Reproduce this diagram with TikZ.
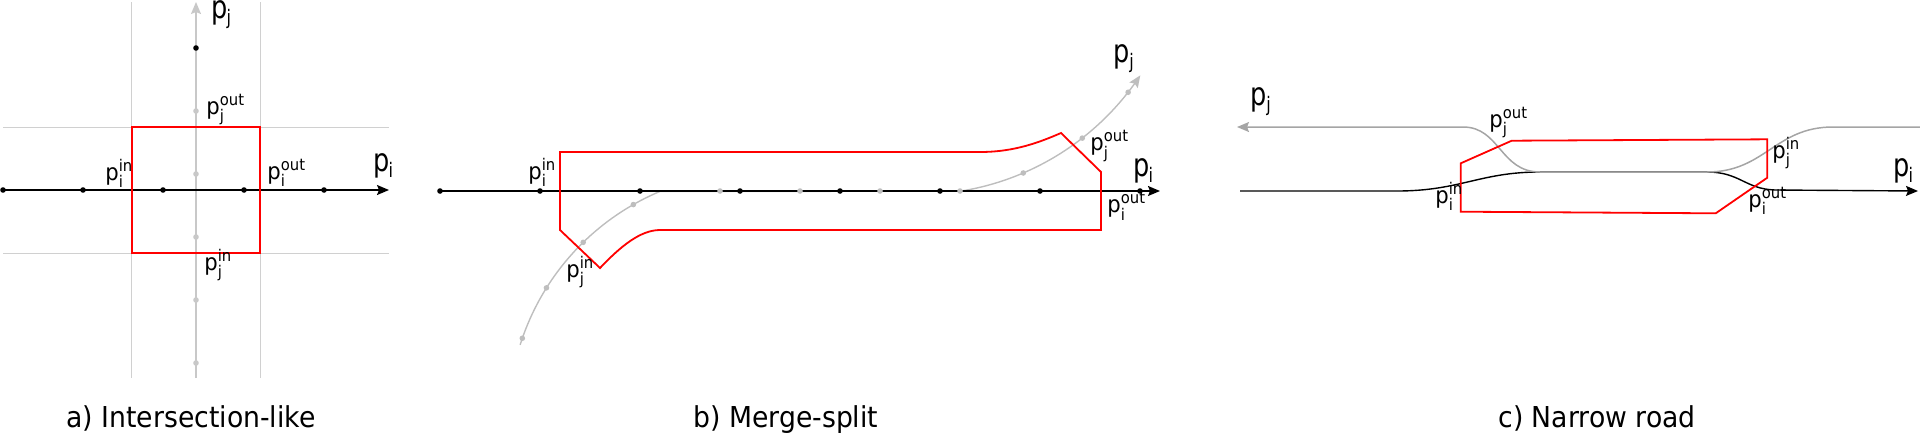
\documentclass[tikz,border=0pt]{standalone}
\usepackage{fontspec}
\setmainfont{DejaVu Sans}
\usepackage{amsmath}
\usepackage{graphicx}
\usetikzlibrary{arrows.meta}
\definecolor{gridgray}{RGB}{208,208,208}
\definecolor{axgray}{RGB}{200,200,200}
\definecolor{curvegray}{RGB}{190,190,190}
\definecolor{roadgray}{RGB}{165,165,165}
\definecolor{boxred}{RGB}{255,0,0}
\newcommand{\plab}[2]{\scalebox{0.92}[1]{p$_{\text{#1}}^{\text{#2}}$}}
\newcommand{\pbig}[1]{\scalebox{0.8}[1]{p\kern-0.4pt\raisebox{-3pt}{\fontsize{10}{10}\selectfont #1}}}
\newcommand{\capt}[1]{\scalebox{0.926}[1]{#1}}
\tikzset{
  lbl/.style={inner sep=0pt, anchor=base west, font=\fontsize{11.5}{13}\selectfont},
  biglbl/.style={inner sep=0pt, anchor=base west, font=\fontsize{16}{18}\selectfont},
  captlbl/.style={inner sep=0pt, anchor=base west, font=\fontsize{14.4}{17}\selectfont},
  bdot/.style={circle, fill=black, inner sep=0pt, minimum size=2.8pt},
  gdot/.style={circle, fill=axgray, inner sep=0pt, minimum size=2.8pt},
  axis/.style={draw=black, line width=0.7pt, -{Stealth[length=6pt,width=5pt,inset=1pt]}},
  gaxis/.style={draw=axgray, line width=0.7pt, -{Stealth[length=6pt,width=5pt,inset=1pt]}},
  gridline/.style={draw=gridgray, line width=0.5pt},
  zone/.style={draw=boxred, line width=0.9pt, line join=miter},
}
\begin{document}
\begin{tikzpicture}[x=0.5pt, y=-0.5pt]
\useasboundingbox (0,0) rectangle (1920,435);

% ---------------- a) Intersection-like ----------------
\coordinate (gv1t) at (131.7,2); \coordinate (gv1b) at (131.7,378);
\coordinate (gv2t) at (260,2);   \coordinate (gv2b) at (260,378);
\coordinate (gh1l) at (3,127);   \coordinate (gh1r) at (389,127);
\coordinate (gh2l) at (3,253);   \coordinate (gh2r) at (389,253);
\draw[gridline] (gv1t) -- (gv1b);
\draw[gridline] (gv2t) -- (gv2b);
\draw[gridline] (gh1l) -- (gh1r);
\draw[gridline] (gh2l) -- (gh2r);

\coordinate (ajs) at (196,378); \coordinate (aje) at (196,2);
\draw[gaxis] (ajs) -- (aje);
\coordinate (ais) at (3,190); \coordinate (aie) at (389,190);
\draw[axis] (ais) -- (aie);

\foreach \x [count=\k] in {3,83,163,244,324} \node[bdot] (ad\k) at (\x,190) {};
\foreach \y [count=\k] in {111,174,237,300,363} \node[gdot] (ag\k) at (196,\y) {};
\node[bdot] (ajtop) at (196,48) {};

\draw[zone] (131.7,127) rectangle (260,253);

\node[biglbl] (aPj) at (210.7,18) {\pbig{j}};
\node[biglbl] (aPi) at (372.7,171.3) {\pbig{i}};
\node[lbl] (aPiin) at (105,180) {\plab{i}{in}};
\node[lbl] (aPiout) at (267,179) {\plab{i}{out}};
\node[lbl] (aPjout) at (206,114) {\plab{j}{out}};
\node[lbl] (aPjin) at (204,270) {\plab{j}{in}};
\node[captlbl] (capA) at (66,427) {\capt{a) Intersection-like}};

% ---------------- b) Merge-split ----------------
\draw[draw=curvegray, line width=0.7pt, -{Stealth[length=6pt,width=5pt,inset=1pt]}]
  plot[domain=162.5:112.8, samples=40] ({755.7+247*cos(\x)}, {419.1-247*sin(\x)})
  -- (960,191.2)
  -- plot[domain=-81:-33.5, samples=40] ({918.5+266*cos(\x)}, {-71.5-266*sin(\x)});

\coordinate (bis) at (440,191); \coordinate (bie) at (1160,191);
\draw[axis] (bis) -- (bie);
\foreach \a [count=\k] in {160.9,147.9,134.3,119.7}
  \node[gdot, fill=curvegray] (bgl\k) at ({755.7+247*cos(\a)}, {419.1-247*sin(\a)}) {};
\foreach \a [count=\k] in {-66.8,-52,-38}
  \node[gdot, fill=curvegray] (bgu\k) at ({918.5+266*cos(\a)}, {-71.5-266*sin(\a)}) {};
\foreach \x [count=\k] in {720,800,880,960} \node[gdot, fill=curvegray] (bga\k) at (\x,191) {};
\foreach \x [count=\k] in {440,540,640,740,840,940,1040,1140} \node[bdot] (bd\k) at (\x,191) {};

\draw[zone] (560,152) -- (560,230) -- (600,268)
  .. controls (620,247) and (640,230) .. (660,230)
  -- (1101,230) -- (1101,172) -- (1061,133)
  .. controls (1040,142) and (1015,152) .. (980,152) -- cycle;

\node[lbl] (bPiin) at (528,179.5) {\plab{i}{in}};
\node[lbl] (bPjin) at (566,277) {\plab{j}{in}};
\node[biglbl] (bPj) at (1113.4,62.3) {\pbig{j}};
\node[lbl] (bPjout) at (1090,150.5) {\plab{j}{out}};
\node[biglbl] (bPi) at (1132.7,176) {\pbig{i}};
\node[lbl] (bPiout) at (1107,212.5) {\plab{i}{out}};
\node[captlbl] (capB) at (693,427) {\capt{b) Merge-split}};

% ---------------- c) Narrow road ----------------
\coordinate (cis) at (1240,191); \coordinate (cie) at (1918,191);
\draw[draw=black, line width=0.7pt, -{Stealth[length=6pt,width=5pt,inset=1pt]}]
  (cis) -- (1397,191) .. controls (1460,191) and (1480,172) .. (1540,172)
  -- (1707,172) .. controls (1740,172) and (1745,189) .. (1775,190) -- (cie);
\coordinate (cjs) at (1920,127); \coordinate (cje) at (1237,127);
\draw[draw=roadgray, line width=0.75pt, -{Stealth[length=6pt,width=5pt,inset=1pt]}]
  (cjs) -- (1833,127) .. controls (1775,127) and (1765,172) .. (1707,172)
  -- (1540,172) .. controls (1500,172) and (1500,127) .. (1463,127) -- (cje);

\draw[zone] (1460.7,163.3) -- (1511.7,140.7) -- (1767.3,139.3) -- (1767.3,177.7)
  -- (1715.7,213.3) -- (1460.7,211.7) -- cycle;

\node[biglbl] (cPj) at (1250.4,105) {\pbig{j}};
\node[lbl] (cPjout) at (1489,127) {\plab{j}{out}};
\node[lbl] (cPiin) at (1435,203.5) {\plab{i}{in}};
\node[lbl] (cPjin) at (1772,158.5) {\plab{j}{in}};
\node[lbl] (cPiout) at (1748,207) {\plab{i}{out}};
\node[biglbl] (cPi) at (1892.7,176.6) {\pbig{i}};
\node[captlbl] (capC) at (1498,427) {\capt{c) Narrow road}};
\end{tikzpicture}
\end{document}
